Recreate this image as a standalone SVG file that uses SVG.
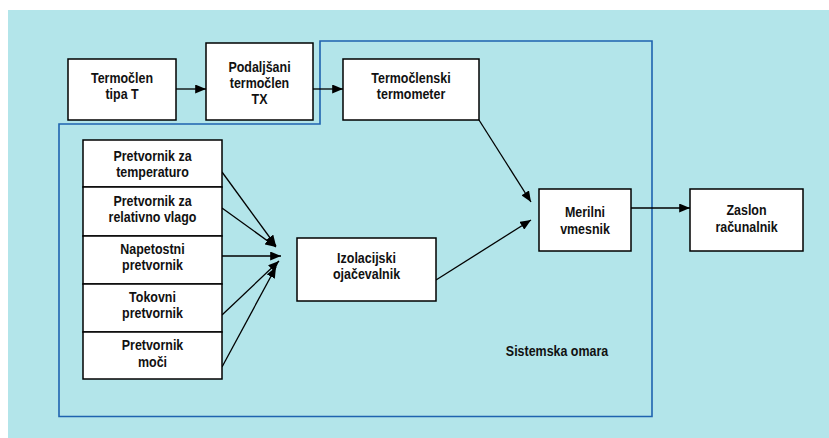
<svg xmlns="http://www.w3.org/2000/svg" width="829" height="438" viewBox="0 0 829 438">
<defs>
<marker id="ah" viewBox="0 0 12 10" refX="12" refY="5" markerWidth="11" markerHeight="9" markerUnits="userSpaceOnUse" orient="auto">
<path d="M0,0 L12,5 L0,10 z" fill="#000"/>
</marker>
<style>
.box{fill:#fff;stroke:#000;stroke-width:1.5}
text{font-family:"Liberation Sans",Arial,sans-serif;font-size:15px;font-weight:bold;fill:#111;text-anchor:middle;transform-box:fill-box;transform-origin:center;transform:scaleX(0.83)}
.c{stroke:#000;stroke-width:1.3;fill:none;marker-end:url(#ah)}
.enc{stroke:#1f63b0;stroke-width:1.6;fill:none}
</style>
</defs>
<rect x="8" y="10" width="821" height="428" fill="#b3e5ea"/>
<path class="enc" d="M320,41 H652 V416.5 H59 V124 H320 Z"/>
<g id="connectors">
<line class="c" x1="176" y1="89" x2="206" y2="89"/>
<line class="c" x1="313" y1="89" x2="343" y2="89"/>
<line class="c" x1="479" y1="120" x2="531" y2="202"/>
<line class="c" x1="436" y1="280" x2="531" y2="220"/>
<line class="c" x1="631" y1="208" x2="690" y2="208"/>
<line class="c" x1="222" y1="172" x2="276" y2="246"/>
<line class="c" x1="222" y1="208" x2="276" y2="247"/>
<line class="c" x1="222" y1="256" x2="281" y2="256"/>
<line class="c" x1="222" y1="315" x2="279" y2="261"/>
<line class="c" x1="222" y1="367" x2="276" y2="267"/>
</g>
<g id="n-termoclen">
<rect class="box" x="68" y="59" width="108" height="61"/>
<text x="122" y="83">Termočlen</text>
<text x="122" y="99">tipa T</text>
</g>
<g id="n-podaljsani">
<rect class="box" x="206" y="43" width="107" height="77"/>
<text x="259.5" y="72">Podaljšani</text>
<text x="259.5" y="88">termočlen</text>
<text x="259.5" y="104">TX</text>
</g>
<g id="n-termometer">
<rect class="box" x="343" y="59" width="136" height="61"/>
<text x="411" y="83">Termočlenski</text>
<text x="411" y="99">termometer</text>
</g>
<g id="n-merilni">
<rect class="box" x="539" y="189" width="92" height="62"/>
<text x="585" y="217">Merilni</text>
<text x="585" y="234">vmesnik</text>
</g>
<g id="n-zaslon">
<rect class="box" x="690" y="189" width="113" height="62"/>
<text x="746.5" y="215">Zaslon</text>
<text x="746.5" y="232">računalnik</text>
</g>
<g id="n-izolacijski">
<rect class="box" x="297" y="238" width="139" height="63"/>
<text x="366.5" y="263">Izolacijski</text>
<text x="366.5" y="279">ojačevalnik</text>
</g>
<g id="n-temp">
<rect class="box" x="83" y="140" width="139" height="47"/>
<text x="152.5" y="161">Pretvornik za</text>
<text x="152.5" y="177">temperaturo</text>
</g>
<g id="n-vlaga">
<rect class="box" x="83" y="187" width="139" height="49"/>
<text x="152.5" y="206">Pretvornik za</text>
<text x="152.5" y="222">relativno vlago</text>
</g>
<g id="n-napetost">
<rect class="box" x="83" y="236" width="139" height="48"/>
<text x="152.5" y="254">Napetostni</text>
<text x="152.5" y="270">pretvornik</text>
</g>
<g id="n-tok">
<rect class="box" x="83" y="284" width="139" height="48"/>
<text x="152.5" y="302">Tokovni</text>
<text x="152.5" y="318">pretvornik</text>
</g>
<g id="n-moc">
<rect class="box" x="83" y="332" width="139" height="47"/>
<text x="152.5" y="350">Pretvornik</text>
<text x="152.5" y="367">moči</text>
</g>
<g id="label-omara">
<text x="557" y="356">Sistemska omara</text>
</g>
</svg>
